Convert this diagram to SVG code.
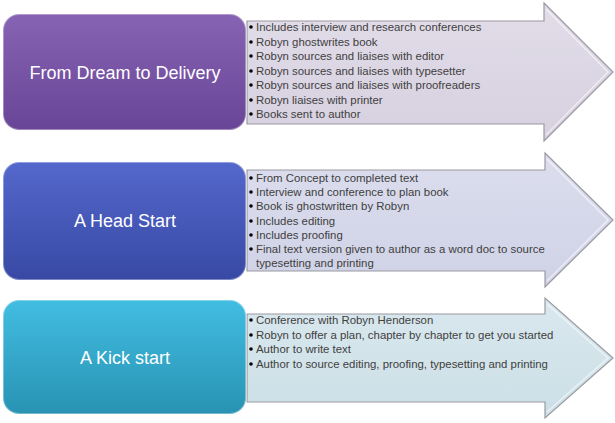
<svg xmlns="http://www.w3.org/2000/svg" width="615" height="423" viewBox="0 0 615 423">
<defs>
<linearGradient id="gPurple" x1="0" y1="0" x2="0" y2="1"><stop offset="0" stop-color="#8763B4"/><stop offset="1" stop-color="#684596"/></linearGradient>
<linearGradient id="gBlue" x1="0" y1="0" x2="0" y2="1"><stop offset="0" stop-color="#5468CC"/><stop offset="1" stop-color="#3849A4"/></linearGradient>
<linearGradient id="gCyan" x1="0" y1="0" x2="0" y2="1"><stop offset="0" stop-color="#42BDE2"/><stop offset="1" stop-color="#2893B3"/></linearGradient>
<linearGradient id="aPurple" x1="0" y1="0" x2="0" y2="1"><stop offset="0" stop-color="#E2DDE9"/><stop offset="1" stop-color="#D6D0DF"/></linearGradient>
<linearGradient id="aBlue" x1="0" y1="0" x2="0" y2="1"><stop offset="0" stop-color="#DCDEEE"/><stop offset="1" stop-color="#CFD2E6"/></linearGradient>
<linearGradient id="aCyan" x1="0" y1="0" x2="0" y2="1"><stop offset="0" stop-color="#D9E8EE"/><stop offset="1" stop-color="#CCDFE6"/></linearGradient>
</defs>
<style>
.box{stroke:rgba(255,255,255,0.35);stroke-width:2}
.arrow{stroke:#9A9AA2;stroke-width:1.2}
.inner{fill:none;stroke:#FFFFFF;stroke-opacity:0.55;stroke-width:1.5}
.title{font-family:"Liberation Sans",Arial,sans-serif;font-size:18px;fill:#FFFFFF;text-anchor:middle}
.item{font-family:"Liberation Sans",Arial,sans-serif;font-size:11.4px;fill:#404040}
.dot{fill:#000000}
</style>
<g id="connectors">
<path class="arrow" fill="url(#aPurple)" d="M247,21 H544 V3 L613,72 L544,141 V124 H247 Z"/>
<path class="inner" d="M546,9 L608,72 L546,135"/>
<path class="arrow" fill="url(#aBlue)" d="M247,170 H545 V153 L613,220 L545,287 V271 H247 Z"/>
<path class="inner" d="M547,159 L608,220 L547,281"/>
<path class="arrow" fill="url(#aCyan)" d="M247,314 H545 V298 L613,358 L545,418 V402 H247 Z"/>
<path class="inner" d="M547,304 L608,358 L547,412"/>
</g>
<g id="node1">
<rect class="box" x="3" y="14" width="243" height="116" rx="16" fill="url(#gPurple)"/>
<text class="title" x="125" y="79">From Dream to Delivery</text>
</g>
<g id="list1">
<circle class="dot" cx="251" cy="27" r="1.8"/><text class="item" x="256" y="31">Includes interview and research conferences</text>
<circle class="dot" cx="251" cy="42" r="1.8"/><text class="item" x="256" y="46">Robyn ghostwrites book</text>
<circle class="dot" cx="251" cy="56" r="1.8"/><text class="item" x="256" y="60">Robyn sources and liaises with editor</text>
<circle class="dot" cx="251" cy="71" r="1.8"/><text class="item" x="256" y="75">Robyn sources and liaises with typesetter</text>
<circle class="dot" cx="251" cy="85" r="1.8"/><text class="item" x="256" y="89">Robyn sources and liaises with proofreaders</text>
<circle class="dot" cx="251" cy="100" r="1.8"/><text class="item" x="256" y="104">Robyn liaises with printer</text>
<circle class="dot" cx="251" cy="114" r="1.8"/><text class="item" x="256" y="118">Books sent to author</text>
</g>
<g id="node2">
<rect class="box" x="3" y="162" width="243" height="118" rx="16" fill="url(#gBlue)"/>
<text class="title" x="125" y="227">A Head Start</text>
</g>
<g id="list2">
<circle class="dot" cx="251" cy="178" r="1.8"/><text class="item" x="256" y="182">From Concept to completed text</text>
<circle class="dot" cx="251" cy="192" r="1.8"/><text class="item" x="256" y="196">Interview and conference to plan book</text>
<circle class="dot" cx="251" cy="206" r="1.8"/><text class="item" x="256" y="210">Book is ghostwritten by Robyn</text>
<circle class="dot" cx="251" cy="221" r="1.8"/><text class="item" x="256" y="225">Includes editing</text>
<circle class="dot" cx="251" cy="235" r="1.8"/><text class="item" x="256" y="239">Includes proofing</text>
<circle class="dot" cx="251" cy="249" r="1.8"/><text class="item" x="256" y="253">Final text version given to author as a word doc to source</text>
<text class="item" x="256" y="267">typesetting and printing</text>
</g>
<g id="node3">
<rect class="box" x="3" y="300" width="243" height="114" rx="16" fill="url(#gCyan)"/>
<text class="title" x="125" y="364">A Kick start</text>
</g>
<g id="list3">
<circle class="dot" cx="251" cy="320" r="1.8"/><text class="item" x="256" y="324">Conference with Robyn Henderson</text>
<circle class="dot" cx="251" cy="335" r="1.8"/><text class="item" x="256" y="339">Robyn to offer a plan, chapter by chapter to get you started</text>
<circle class="dot" cx="251" cy="349" r="1.8"/><text class="item" x="256" y="353">Author to write text</text>
<circle class="dot" cx="251" cy="364" r="1.8"/><text class="item" x="256" y="368">Author to source editing, proofing, typesetting and printing</text>
</g>
</svg>
